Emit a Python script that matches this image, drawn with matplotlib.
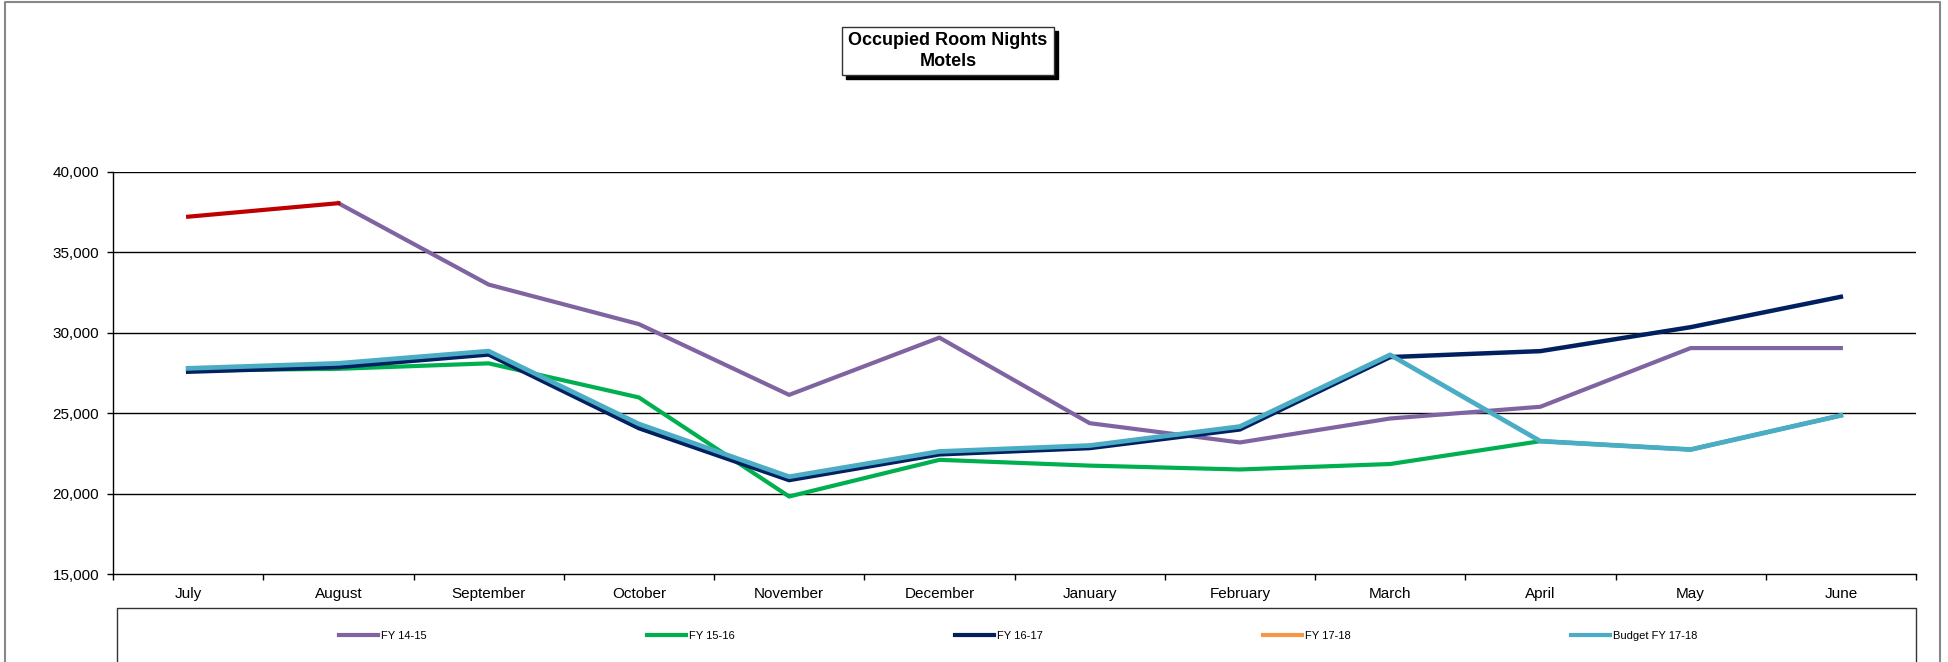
import numpy as np
import matplotlib.pyplot as plt
from matplotlib.lines import Line2D
from matplotlib.patches import Rectangle
from matplotlib.ticker import FuncFormatter, FixedLocator

plt.rcParams['font.family'] = ['Liberation Sans', 'DejaVu Sans']

months = ['July', 'August', 'September', 'October', 'November', 'December',
          'January', 'February', 'March', 'April', 'May', 'June']
nan = np.nan
fy1415 = [nan, 38060, 33000, 30540, 26140, 29700, 24380, 23180, 24670, 25400, 29050, 29050]
fy1516 = [27660, 27760, 28100, 25980, 19820, 22100, 21740, 21500, 21840, 23260, 22740, 24860]
fy1617 = [27580, 27870, 28650, 24070, 20840, 22440, 22830, 23990, 28490, 28860, 30350, 32240]
fy1718 = [37220, 38060, nan, nan, nan, nan, nan, nan, nan, nan, nan, nan]
budget1718 = [27790, 28100, 28860, 24330, 21050, 22620, 22990, 24170, 28630, 23260, 22740, 24860]

c_1415 = '#8064A2'
c_1516 = '#00B050'
c_1617 = '#002060'
c_1718 = '#C00000'
c_1718_leg = '#F79646'
c_budget = '#4BACC6'

W, H = 1948, 662
fig = plt.figure(figsize=(W / 100, H / 100), dpi=100)
ax = fig.add_axes([113 / W, 1 - 574 / H, (1916 - 113) / W, (574 - 172) / H])

x = np.arange(len(months))
ax.plot(x, fy1415, color=c_1415, lw=3, zorder=3)
ax.plot(x, fy1516, color=c_1516, lw=3, zorder=3)
ax.plot(x, fy1617, color=c_1617, lw=3.2, zorder=4)
ax.plot(x, budget1718, color=c_budget, lw=3.4, zorder=5)
ax.plot(x, fy1718, color=c_1718, lw=3, zorder=6)

ax.set_xlim(-0.5, len(months) - 0.5)
ax.set_ylim(15000, 40000)
ax.set_yticks(np.arange(15000, 40001, 5000))
ax.yaxis.set_major_formatter(FuncFormatter(lambda v, p: f'{int(v):,}'))
ax.set_xticks(x)
ax.set_xticklabels(months, va='baseline')
ax.xaxis.set_minor_locator(FixedLocator(np.arange(-0.5, len(months), 1.0)))
ax.tick_params(axis='x', which='major', length=0, pad=17, labelsize=11)
ax.tick_params(axis='x', which='minor', length=4, width=1, direction='out')
ax.tick_params(axis='y', length=4, width=1, pad=6, labelsize=11)

for v in range(20000, 40001, 5000):
    ax.axhline(v, color='black', lw=1, zorder=1)
for s in ['top', 'right']:
    ax.spines[s].set_visible(False)
ax.spines['left'].set_linewidth(1)
ax.spines['bottom'].set_linewidth(1)

# title box with shadow
fig.patches.append(Rectangle((846 / W, 1 - 79 / H), 212 / W, 48 / H,
                             transform=fig.transFigure, facecolor='black',
                             edgecolor='black', zorder=1))
fig.patches.append(Rectangle((842 / W, 1 - 75 / H), 212 / W, 48 / H,
                             transform=fig.transFigure, facecolor='white',
                             edgecolor='#333333', lw=1, zorder=2))
fig.text(948 / W, 1 - 51 / H, 'Occupied Room Nights\nMotels', ha='center', va='center',
         fontsize=13, fontweight='bold', linespacing=1.3, zorder=3)

# legend box (open at the bottom)
fig.add_artist(Line2D([117 / W, 117 / W, 1916 / W, 1916 / W], [0, 1 - 608 / H, 1 - 608 / H, 0],
                      transform=fig.transFigure, color='#333333', lw=1))
handles = [Line2D([], [], color=c_1415, lw=3),
           Line2D([], [], color=c_1516, lw=3),
           Line2D([], [], color=c_1617, lw=3),
           Line2D([], [], color=c_1718_leg, lw=3),
           Line2D([], [], color=c_budget, lw=3)]
labels = ['FY 14-15', 'FY 15-16', 'FY 16-17', 'FY 17-18', 'Budget FY 17-18']
fig.legend(handles, labels, loc='center left', bbox_to_anchor=(339 / W, 1 - 636 / H),
           ncol=5, frameon=False, fontsize=8, handlelength=3.5, handletextpad=0.3,
           columnspacing=19.8, borderpad=0, borderaxespad=0)

# outer chart frame
fig.add_artist(Line2D([5 / W, 5 / W, 1940 / W, 1940 / W], [0, 1 - 2 / H, 1 - 2 / H, 0],
                      transform=fig.transFigure, color='#888888', lw=1.5))

fig.savefig('out.png', dpi=100)
